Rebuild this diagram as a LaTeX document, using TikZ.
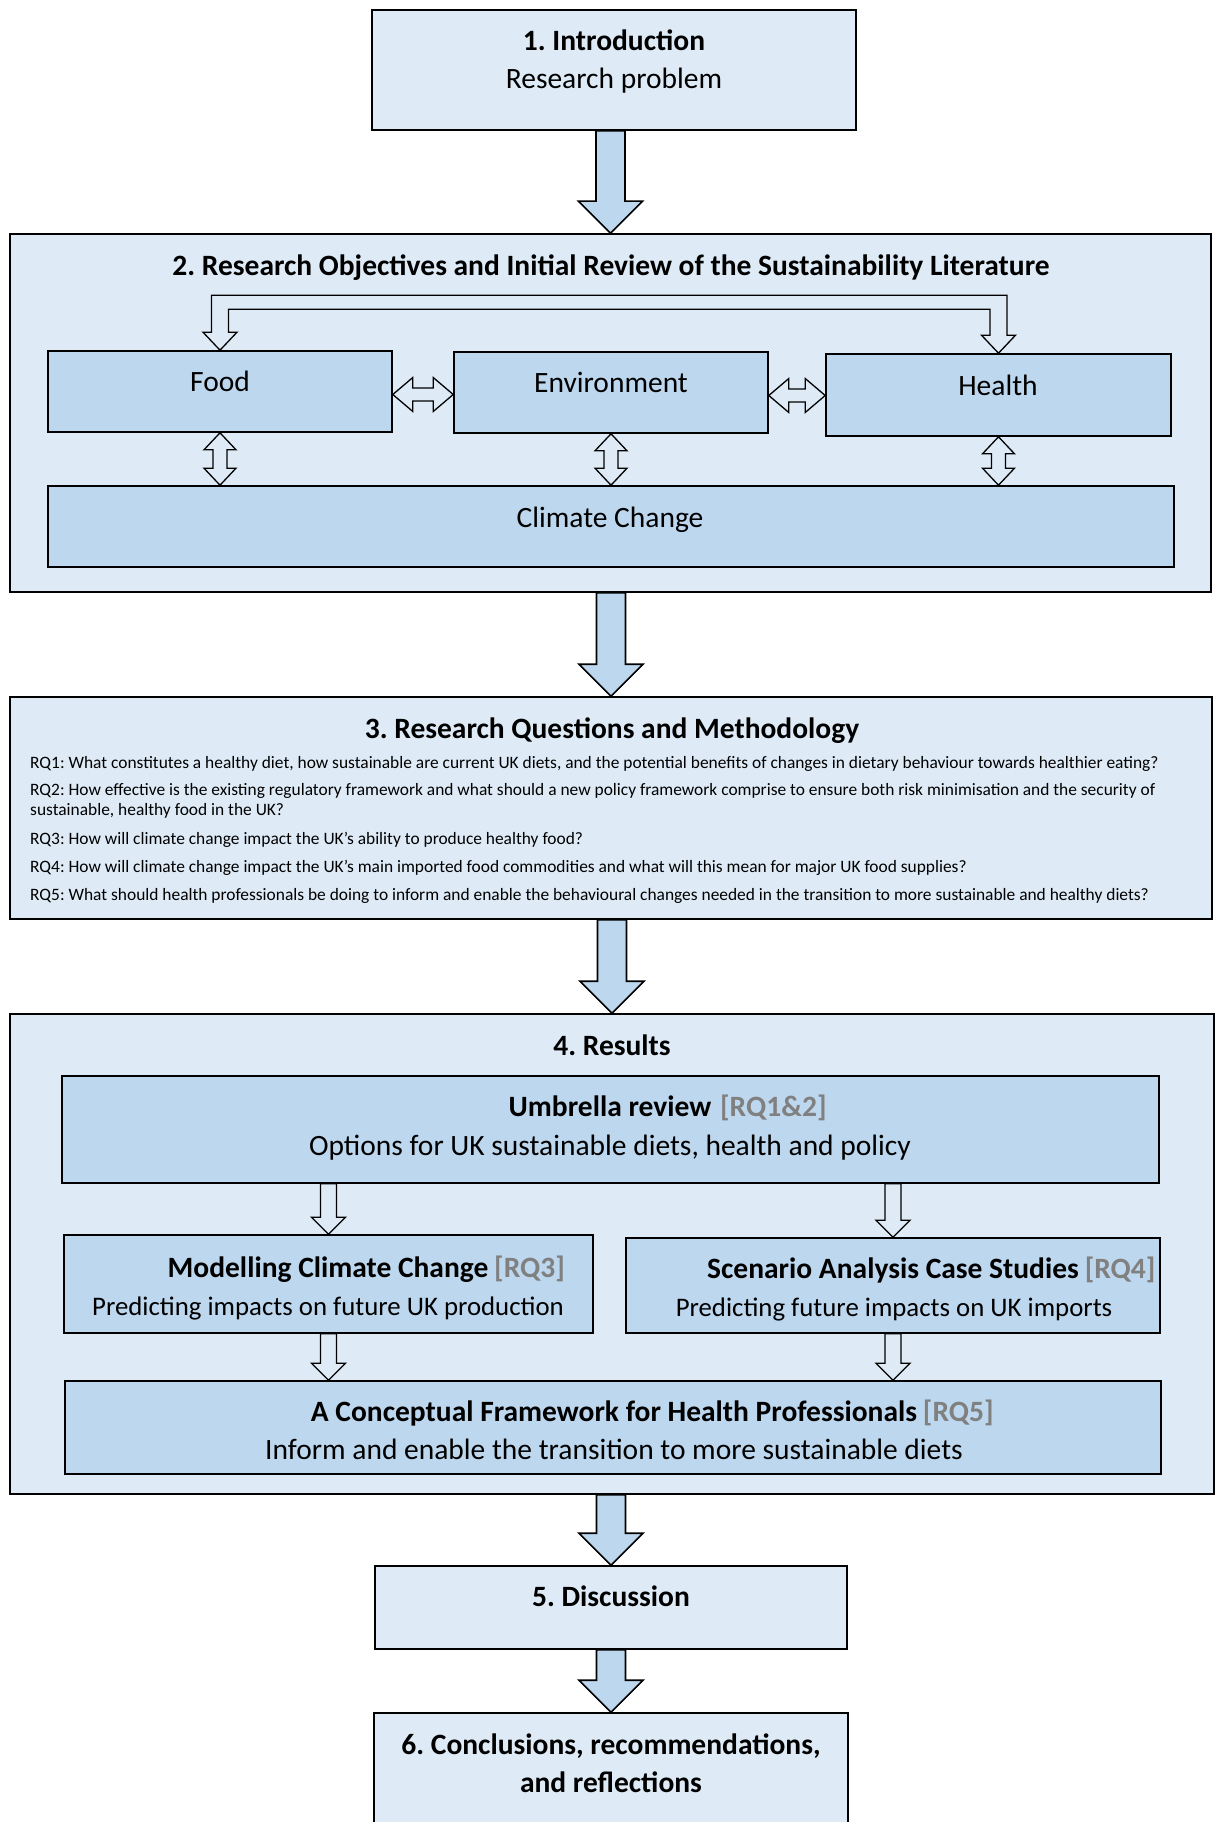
\documentclass[tikz,border=0pt]{standalone}
\usepackage{fontspec}
\setmainfont{Carlito}
\usetikzlibrary{calc}
\frenchspacing

\definecolor{paleblue}{RGB}{222,235,247}
\definecolor{midblue}{RGB}{189,215,238}
\definecolor{rqgray}{RGB}{128,128,128}

\newcommand\txtsize{\fontsize{29.5}{34}\selectfont}
\newcommand\smalltxtsize{\fontsize{26.8}{32}\selectfont}
\newcommand\rqsize{\fontsize{17.4}{20}\selectfont}

% wide block arrow between two stages
\newcommand\linkflow[2]{%
  \draw[flowarrow] let \p1=(#1.south), \p2=(#2.north) in
    (\x2-14.5pt,\y1) -- (\x2-14.5pt,\y2+32pt) -- (\x2-32pt,\y2+32pt) -- (\x2,\y2)
    -- (\x2+32pt,\y2+32pt) -- (\x2+14.5pt,\y2+32pt) -- (\x2+14.5pt,\y1) -- cycle;}
% hollow two-headed vertical arrow
\newcommand\linkvert[2]{%
  \draw[hollow] let \p1=(#1.south), \p2=(#2.north) in
    (\x1,\y1) -- (\x1+16pt,\y1-17pt) -- (\x1+7pt,\y1-17pt) -- (\x1+7pt,\y2+17pt)
    -- (\x1+16pt,\y2+17pt) -- (\x1,\y2) -- (\x1-16pt,\y2+17pt) -- (\x1-7pt,\y2+17pt)
    -- (\x1-7pt,\y1-17pt) -- (\x1-16pt,\y1-17pt) -- cycle;}
% hollow two-headed horizontal arrow
\newcommand\linkhoriz[2]{%
  \draw[hollow] let \p1=(#1.east), \p2=(#2.west) in
    (\x1,\y1-3pt) -- (\x1+20pt,\y1+14pt) -- (\x1+20pt,\y1+3.5pt) -- (\x2-20pt,\y1+3.5pt)
    -- (\x2-20pt,\y1+14pt) -- (\x2,\y1-3pt) -- (\x2-20pt,\y1-20pt) -- (\x2-20pt,\y1-9.5pt)
    -- (\x1+20pt,\y1-9.5pt) -- (\x1+20pt,\y1-20pt) -- cycle;}
% hollow single-headed downward arrow, placed on the axis of node #3
\newcommand\linkdown[3]{%
  \draw[hollow] let \p1=(#1.south), \p2=(#2.north), \p3=(#3.center) in
    (\x3-8pt,\y1) -- (\x3-8pt,\y2+17pt) -- (\x3-17pt,\y2+17pt) -- (\x3,\y2)
    -- (\x3+17pt,\y2+17pt) -- (\x3+8pt,\y2+17pt) -- (\x3+8pt,\y1) -- cycle;}

\begin{document}
\begin{tikzpicture}[x=1pt,y=-1pt,
  outerbox/.style={draw=black, fill=paleblue, line width=1.6pt, inner sep=0pt},
  innerbox/.style={draw=black, fill=midblue, line width=1.6pt, inner sep=0pt},
  flowarrow/.style={draw=black, fill=midblue, line width=1.6pt, line join=miter},
  hollow/.style={draw=black, fill=paleblue, line width=1.3pt, line join=miter},
  body/.style={inner sep=0pt, anchor=base, font=\txtsize},
  smallbody/.style={inner sep=0pt, anchor=base, font=\smalltxtsize},
  head/.style={inner sep=0pt, anchor=base, font=\txtsize\bfseries},
  rq/.style={inner sep=0pt, anchor=base west, font=\rqsize}]
\useasboundingbox (0,0) rectangle (1219,1822);
\clip (0,0) rectangle (1219,1822);
\fill[white] (0,0) rectangle (1219,1822);

% ---- stage boxes
\node[outerbox, minimum width=484pt, minimum height=120pt] (intro) at (614,70) {};
\node[outerbox, minimum width=1201pt, minimum height=358pt] (review) at (610.5,413) {};
\node[outerbox, minimum width=1202pt, minimum height=222pt] (questions) at (611,808) {};
\node[outerbox, minimum width=1204pt, minimum height=480pt] (results) at (612,1254) {};
\node[outerbox, minimum width=472pt, minimum height=83pt] (discussion) at (611,1607.5) {};
\node[outerbox, minimum width=474pt, minimum height=130pt] (conclusions) at (611,1778) {};

% ---- review themes
\node[innerbox, minimum width=344pt, minimum height=81pt] (food) at (220,391.5) {};
\node[innerbox, minimum width=314pt, minimum height=81pt] (env) at (611,392.5) {};
\node[innerbox, minimum width=345pt, minimum height=82pt] (health) at (998.5,395) {};
\node[innerbox, minimum width=1126pt, minimum height=81pt] (climate) at (611,526.5) {};

% ---- results studies
\node[innerbox, minimum width=1097pt, minimum height=107pt] (umbrella) at (610.5,1129.5) {};
\node[innerbox, minimum width=529pt, minimum height=98pt] (modelling) at (328.5,1284) {};
\node[innerbox, minimum width=534pt, minimum height=95pt] (scenario) at (893,1285.5) {};
\node[innerbox, minimum width=1096pt, minimum height=93pt] (framework) at (613,1427.5) {};

% ---- texts
\node[head] (introA) at (614,51) {1. Introduction};
\node[body] (introB) at (614,89) {Research problem};
\node[head] (reviewT) at (611,275) {2. Research Objectives and Initial Review of the Sustainability Literature};
\node[body] (foodT) at (220,391) {Food};
\node[body] (envT) at (611,392) {Environment};
\node[body] (healthT) at (998,395) {Health};
\node[body] (climateT) at (610,527) {Climate Change};

\node[head] (questionsT) at (612,738) {3. Research Questions and Methodology};
\node[rq] (rq1) at (30,768.5) {RQ1: What constitutes a healthy diet, how sustainable are current UK diets, and the potential benefits of changes in dietary behaviour towards healthier eating?};
\node[rq] (rq2a) at (30,795) {RQ2: How effective is the existing regulatory framework and what should a new policy framework comprise to ensure both risk minimisation and the security of};
\node[rq] (rq2b) at (30,815) {sustainable, healthy food in the UK?};
\node[rq] (rq3) at (30,844) {RQ3: How will climate change impact the UK’s ability to produce healthy food?};
\node[rq] (rq4) at (30,872) {RQ4: How will climate change impact the UK’s main imported food commodities and what will this mean for major UK food supplies?};
\node[rq] (rq5) at (30,900) {RQ5: What should health professionals be doing to inform and enable the behavioural changes needed in the transition to more sustainable and healthy diets?};

\node[head] (resultsT) at (612,1055) {4. Results};
\node[head] (umbrellaA) at (610,1116) {Umbrella review\rlap{\hspace{0.3em}\color{rqgray}[RQ1\&2]}};
\node[body] (umbrellaB) at (610,1155) {Options for UK sustainable diets, health and policy};
\node[head] (modellingA) at (328,1277) {Modelling Climate Change\rlap{\hspace{0.2em}\color{rqgray}[RQ3]}};
\node[smallbody] (modellingB) at (328,1315) {Predicting impacts on future UK production};
\node[head] (scenarioA) at (893,1278) {Scenario Analysis Case Studies\rlap{\hspace{0.2em}\color{rqgray}[RQ4]}};
\node[smallbody] (scenarioB) at (894,1316) {Predicting future impacts on UK imports};
\node[head] (frameworkA) at (614,1421) {A Conceptual Framework for Health Professionals\rlap{\hspace{0.2em}\color{rqgray}[RQ5]}};
\node[body] (frameworkB) at (614,1459) {Inform and enable the transition to more sustainable diets};

\node[head] (discussionT) at (611,1606) {5. Discussion};
\node[head] (conclusionsA) at (611,1754) {6. Conclusions, recommendations,};
\node[head] (conclusionsB) at (611,1792) {and reflections};

% ---- stage-to-stage arrows
\linkflow{intro}{review}
\linkflow{review}{questions}
\linkflow{questions}{results}
\linkflow{results}{discussion}
\linkflow{discussion}{conclusions}

% ---- links between themes
\draw[hollow] let \p1=(food.north), \p2=(health.north) in
  (\x1,\y1) -- (\x1-17pt,\y1+18pt) -- (\x1-8.5pt,\y1+18pt) -- (\x1-8.5pt,\y1+55pt)
  -- (\x2+8.5pt,\y1+55pt) -- (\x2+8.5pt,\y2+18pt) -- (\x2+17pt,\y2+18pt) -- (\x2,\y2)
  -- (\x2-17pt,\y2+18pt) -- (\x2-8.5pt,\y2+18pt) -- (\x2-8.5pt,\y1+41pt)
  -- (\x1+8.5pt,\y1+41pt) -- (\x1+8.5pt,\y1+18pt) -- (\x1+17pt,\y1+18pt) -- cycle;
\linkhoriz{food}{env}
\linkhoriz{env}{health}
\linkvert{food}{climate}
\linkvert{env}{climate}
\linkvert{health}{climate}

% ---- links between studies
\linkdown{umbrella}{modelling}{modelling}
\linkdown{umbrella}{scenario}{scenario}
\linkdown{modelling}{framework}{modelling}
\linkdown{scenario}{framework}{scenario}
\end{tikzpicture}
\end{document}
